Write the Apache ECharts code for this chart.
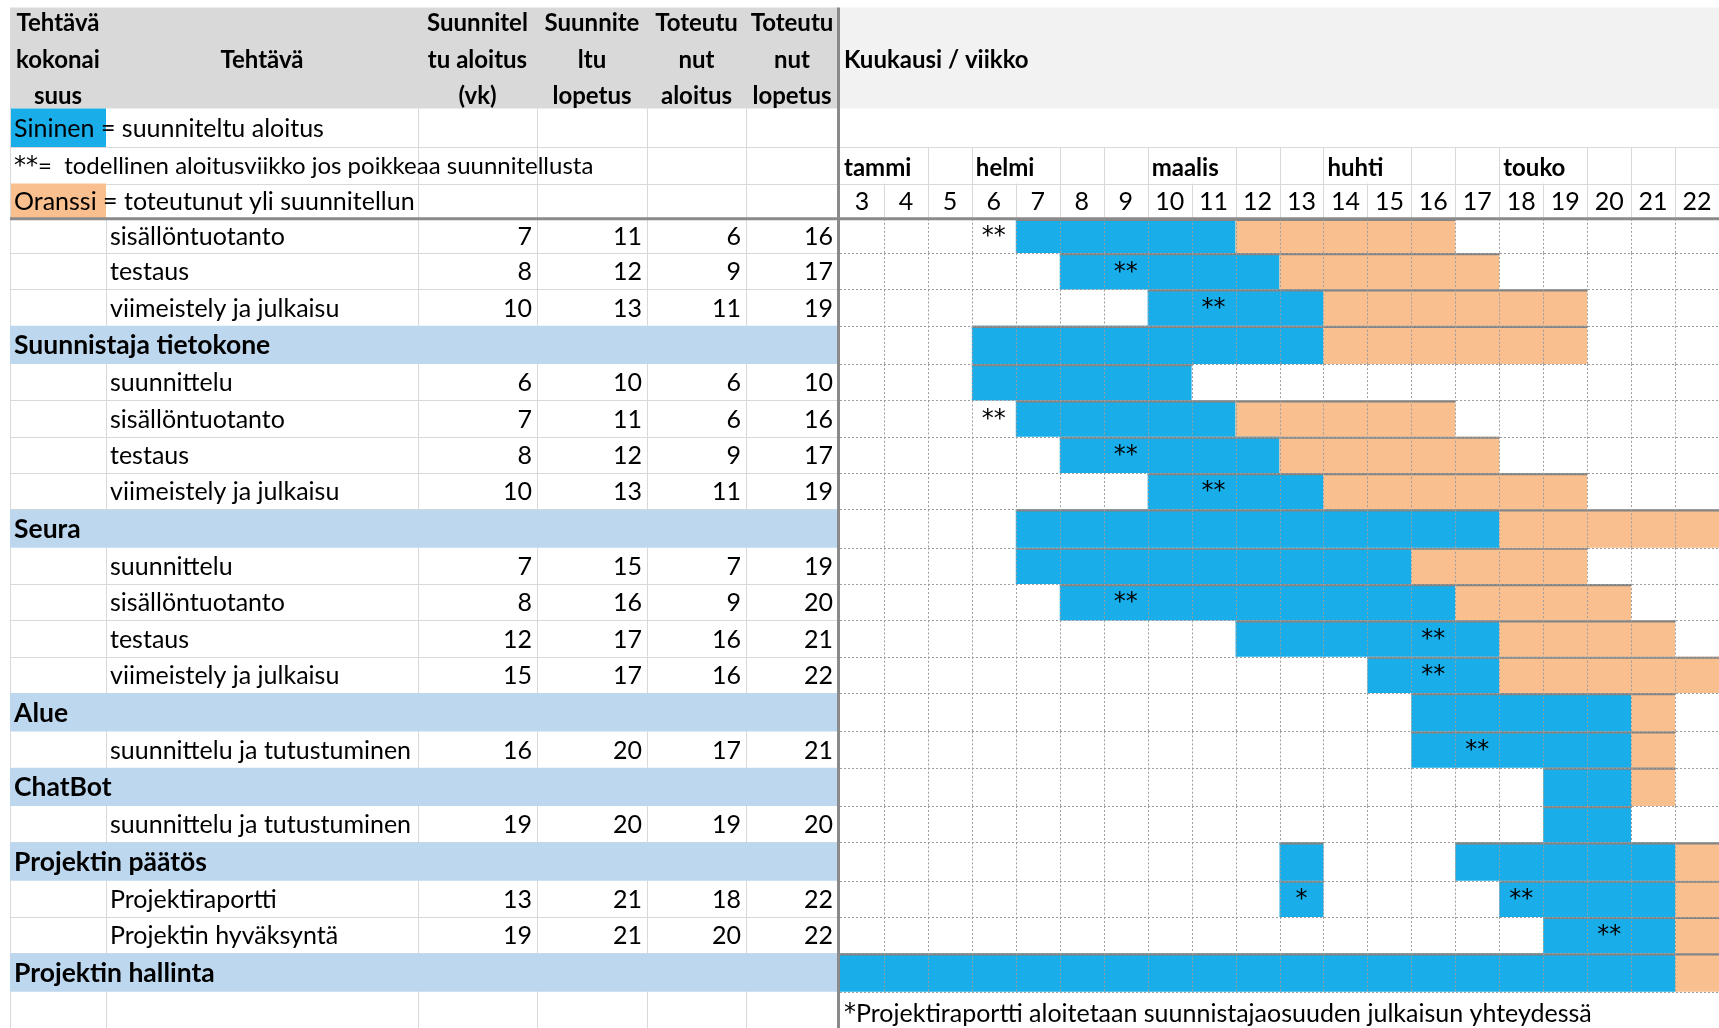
<!DOCTYPE html>
<html>
<head>
<meta charset="utf-8">
<script src="https://cdn.jsdelivr.net/npm/echarts@6/dist/echarts.min.js"></script>
<style>
  html, body { margin: 0; padding: 0; background: #ffffff; }
  #chart { width: 1719px; height: 1028px; }
</style>
</head>
<body>
<div id="chart"></div>
<script>
// ---- Schedule data -------------------------------------------------------
const weeks = [3, 4, 5, 6, 7, 8, 9, 10, 11, 12, 13, 14, 15, 16, 17, 18, 19, 20, 21, 22];
const monthNames = ['tammi', 'helmi', 'maalis', 'huhti', 'touko'];
const monthStartWeeks = [3, 6, 10, 14, 18];

const taskNames = [
  'sisällöntuotanto', 'testaus', 'viimeistely ja julkaisu',
  'Suunnistaja tietokone', 'suunnittelu', 'sisällöntuotanto', 'testaus', 'viimeistely ja julkaisu',
  'Seura', 'suunnittelu', 'sisällöntuotanto', 'testaus', 'viimeistely ja julkaisu',
  'Alue', 'suunnittelu ja tutustuminen',
  'ChatBot', 'suunnittelu ja tutustuminen',
  'Projektin päätös', 'Projektiraportti', 'Projektin hyväksyntä',
  'Projektin hallinta'
];
const isGroup       = [0, 0, 0, 1, 0, 0, 0, 0, 1, 0, 0, 0, 0, 1, 0, 1, 0, 1, 0, 0, 1];
const plannedStart  = [7, 8, 10, null, 6, 7, 8, 10, null, 7, 8, 12, 15, null, 16, null, 19, null, 13, 19, null];
const plannedEnd    = [11, 12, 13, null, 10, 11, 12, 13, null, 15, 16, 17, 17, null, 20, null, 20, null, 21, 21, null];
const actualStart   = [6, 9, 11, null, 6, 6, 9, 11, null, 7, 9, 16, 16, null, 17, null, 19, null, 18, 20, null];
const actualEnd     = [16, 17, 19, null, 10, 16, 17, 19, null, 19, 20, 21, 22, null, 21, null, 20, null, 22, 22, null];

// Summary bars of the group rows: [row, fromWeek, toWeek]
const groupPlanned = [[3, 6, 13], [8, 7, 17], [13, 16, 20], [15, 19, 20], [17, 13, 13], [17, 17, 21], [20, 3, 21]];
const groupOverrun = [[3, 14, 19], [8, 18, 22], [13, 21, 21], [15, 21, 21], [17, 22, 22], [20, 22, 22]];
// Report work that is started early, tied to the footnote: [row, week, mark]
const earlyStarts = [[18, 13, '*']];

const headerLines = [
  ['Tehtävä', 'kokonai', 'suus'],
  ['', 'Tehtävä', ''],
  ['Suunnitel', 'tu aloitus', '(vk)'],
  ['Suunnite', 'ltu', 'lopetus'],
  ['Toteutu', 'nut', 'aloitus'],
  ['Toteutu', 'nut', 'lopetus']
];
const timelineTitle = 'Kuukausi / viikko';
const legendTexts = [
  'Sininen = suunniteltu aloitus',
  '{s|**}=  todellinen aloitusviikko jos poikkeaa suunnitellusta',
  'Oranssi = toteutunut yli suunnitellun'
];
const footnote = '{s|*}Projektiraportti aloitetaan suunnistajaosuuden julkaisun yhteydessä';

// ---- Layout ---------------------------------------------------------------
const FONT_FAMILY = 'Lato, "Noto Sans", sans-serif';
const fontR = '25px ' + FONT_FAMILY;
const fontNote = '24px ' + FONT_FAMILY;
const fontB = 'bold 24px ' + FONT_FAMILY;
const fontGroup = 'bold 26.5px ' + FONT_FAMILY;
const fontMark = '24px "DejaVu Sans", sans-serif';
const richMark = { s: { font: fontMark, fill: '#000' } };

const BLUE = '#19aeea';
const ORANGE = '#f9bf8e';
const GROUP_BG = '#bdd7ee';
const LIGHT = '#d9d9d9';
const DOT = '#9c9c9c';
const DARK = '#848484';

const TABLE_LEFT = 10;
const colEdges = [0, 96, 408, 527, 637, 736, 828];   // table column edges
const TABLE_W = colEdges[colEdges.length - 1];
const GANTT_LEFT = 840;
const GANTT_W = 880;
const TOP = 108.5;
const HEADER_TOP = 7.5;

const legendH = [38.8, 36.6, 35.4];
const FIRST_H = 34.5, ROW_H = 36.5, GROUP_H = 38.5;
const rowH = legendH.slice();
isGroup.forEach((g, r) => rowH.push(r === 0 ? FIRST_H : (g ? GROUP_H : ROW_H)));
rowH.push(ROW_H); // footnote row
const rowTop = [];
let acc = 0;
rowH.forEach(h => { rowTop.push(acc); acc += h; });
const TOTAL = acc;
const N_LEGEND = legendH.length;
const N_ROWS = rowH.length;
const FOOT_ROW = N_ROWS - 1;

const crisp = v => Math.round(v) + 0.5;

function rowBounds(api, g) {
  return [api.coord([0, rowTop[g]])[1], api.coord([0, rowTop[g] + rowH[g]])[1]];
}
function vline(x, y0, y1, stroke, dash) {
  return { type: 'line', shape: { x1: crisp(x), y1: y0, x2: crisp(x), y2: y1 },
    style: { stroke: stroke, lineWidth: 1, lineDash: dash || null } };
}
function hline(x0, x1, y, stroke, dash, w) {
  return { type: 'line', shape: { x1: x0, y1: w ? y : crisp(y), x2: x1, y2: w ? y : crisp(y) },
    style: { stroke: stroke, lineWidth: w || 1, lineDash: dash || null } };
}
function txt(text, x, y, font, align) {
  return { type: 'text', style: { text: text, x: x, y: y, font: font, fill: '#000', rich: richMark,
    align: align, textAlign: align, verticalAlign: 'middle', textVerticalAlign: 'middle' } };
}

// ---- Left table -----------------------------------------------------------
function renderTableRow(params, api) {
  const g = api.value(0);
  const [y0, y1] = rowBounds(api, g);
  const ym = (y0 + y1) / 2 + 1;
  const X = k => api.coord([colEdges[k], 0])[0];
  const ch = [];
  if (g < N_LEGEND) {
    if (g === 0 || g === 2) {
      ch.push({ type: 'rect', shape: { x: X(0), y: y0, width: X(1) - X(0), height: y1 - y0 },
        style: { fill: g === 0 ? BLUE : ORANGE } });
    }
    ch.push(vline(X(0), y0, y1, LIGHT));
    for (let k = 2; k < 6; k++) ch.push(vline(X(k), y0, y1, LIGHT));
    ch.push(hline(X(0), X(6), y1, LIGHT));
    ch.push(txt(legendTexts[g], X(0) + 4, ym, g === 1 ? fontNote : fontR, 'left'));
  } else if (g < FOOT_ROW) {
    const r = g - N_LEGEND;
    if (isGroup[r]) {
      ch.push({ type: 'rect', shape: { x: X(0), y: y0, width: X(6) - X(0), height: y1 - y0 },
        style: { fill: GROUP_BG } });
      ch.push(txt(taskNames[r], X(0) + 4, ym, fontGroup, 'left'));
    } else {
      for (let k = 0; k < 6; k++) ch.push(vline(X(k), y0, y1, LIGHT));
      ch.push(hline(X(0), X(6), y1, LIGHT));
      ch.push(txt(taskNames[r], X(1) + 4, ym, fontR, 'left'));
      const vals = [plannedStart[r], plannedEnd[r], actualStart[r], actualEnd[r]];
      vals.forEach((v, k) => ch.push(txt(String(v), X(k + 3) - 5, ym, fontR, 'right')));
    }
  } else {
    for (let k = 0; k < 6; k++) ch.push(vline(X(k), y0, y1 + 40, LIGHT));
  }
  return { type: 'group', children: ch };
}

// ---- Timeline grid, headers and footnote -----------------------------------
function renderTimelineRow(params, api) {
  const g = api.value(0);
  const [y0, y1] = rowBounds(api, g);
  const ym = (y0 + y1) / 2 + 1;
  const W = w => api.coord([w, 0])[0];
  const ch = [];
  if (g === 1) {
    ch.push(hline(W(3), W(23), y0, LIGHT));
    weeks.forEach(w => {
      if (w === 3) return;
      if (monthStartWeeks.indexOf(w - 1) >= 0) return; // month name spills over this border
      ch.push(vline(W(w), y0, y1, LIGHT));
    });
    ch.push(vline(W(23), y0, y1, LIGHT));
    monthNames.forEach((m, i) => ch.push(txt(m, W(monthStartWeeks[i]) + 4, ym + 2, fontB, 'left')));
  } else if (g === 2) {
    ch.push(hline(W(3), W(23), y0, LIGHT));
    weeks.forEach(w => { if (w > 3) ch.push(vline(W(w), y0, y1, LIGHT)); });
    ch.push(vline(W(23), y0, y1, LIGHT));
    weeks.forEach(w => ch.push(txt(String(w), (W(w) + W(w + 1)) / 2, ym, fontR, 'center')));
  } else if (g >= N_LEGEND && g < FOOT_ROW) {
    weeks.forEach(w => { if (w > 3) ch.push(vline(W(w), y0, y1, DOT, [2, 2])); });
    ch.push(hline(W(3), W(23), y1, DOT, [2, 2]));
  } else if (g === FOOT_ROW) {
    ch.push(txt(footnote, W(3) + 4, ym + 3, fontR, 'left'));
  }
  return { type: 'group', children: ch };
}

// ---- Bars -----------------------------------------------------------------
const barData = [];   // [row, fromWeek, toWeek, kind] kind 0 = planned, 1 = overrun
const markData = [];  // [row, week, text]
taskNames.forEach((name, r) => {
  if (isGroup[r]) return;
  const early = earlyStarts.find(e => e[0] === r);
  if (early) {
    barData.push([r, early[1], early[1], 0]);
    markData.push([r, early[1], early[2]]);
    barData.push([r, actualStart[r], plannedEnd[r], 0]);
  } else {
    barData.push([r, plannedStart[r], plannedEnd[r], 0]);
  }
  if (actualEnd[r] > plannedEnd[r]) barData.push([r, plannedEnd[r] + 1, actualEnd[r], 1]);
  if (actualStart[r] !== plannedStart[r]) markData.push([r, actualStart[r], '**']);
});
groupPlanned.forEach(s => barData.push([s[0], s[1], s[2], 0]));
groupOverrun.forEach(s => barData.push([s[0], s[1], s[2], 1]));

function renderBar(params, api) {
  const g = api.value(0) + N_LEGEND;
  const [y0, y1] = rowBounds(api, g);
  const x0 = api.coord([api.value(1), 0])[0];
  const x1 = api.coord([api.value(2) + 1, 0])[0];
  return { type: 'group', children: [
    { type: 'rect', shape: { x: x0, y: y0, width: x1 - x0, height: y1 - y0 },
      style: { fill: api.value(3) === 1 ? ORANGE : BLUE } },
    hline(x0, x1, y0 + 1, DARK, null, 2.2)
  ] };
}
function renderMark(params, api) {
  const g = api.value(0) + N_LEGEND;
  const [y0, y1] = rowBounds(api, g);
  const w = api.value(1);
  const xc = (api.coord([w, 0])[0] + api.coord([w + 1, 0])[0]) / 2;
  return txt(markData[params.dataIndex][2], xc, (y0 + y1) / 2 + 1, fontMark, 'center');
}

// ---- Header band ----------------------------------------------------------
const graphics = [
  { type: 'rect', shape: { x: TABLE_LEFT, y: HEADER_TOP, width: TABLE_W, height: TOP - HEADER_TOP },
    style: { fill: '#d9d9d9' }, z: 0 },
  { type: 'rect', shape: { x: GANTT_LEFT, y: HEADER_TOP, width: GANTT_W, height: TOP - HEADER_TOP },
    style: { fill: '#f2f2f2' }, z: 0 },
  { type: 'line', shape: { x1: GANTT_LEFT - 1.5, y1: HEADER_TOP, x2: GANTT_LEFT - 1.5, y2: 1028 },
    style: { stroke: '#8a8a8a', lineWidth: 3 }, z: 50 }
];
const headerLineY = [23, 60, 96];
headerLines.forEach((lines, k) => {
  const cx = TABLE_LEFT + (colEdges[k] + colEdges[k + 1]) / 2;
  lines.forEach((t, i) => {
    if (!t) return;
    graphics.push({ type: 'text', z: 10, style: { text: t, x: cx, y: headerLineY[i], font: fontB, fill: '#000',
      align: 'center', textAlign: 'center', verticalAlign: 'middle', textVerticalAlign: 'middle' } });
  });
});
graphics.push({ type: 'text', z: 10, style: { text: timelineTitle, x: GANTT_LEFT + 4, y: headerLineY[1], font: fontB,
  fill: '#000', align: 'left', textAlign: 'left', verticalAlign: 'middle', textVerticalAlign: 'middle' } });

const rowItems = rowH.map((h, i) => [i]);

const chart = echarts.init(document.getElementById('chart'), null, { renderer: 'canvas' });
chart.setOption({
  animation: false,
  backgroundColor: '#ffffff',
  grid: [
    { left: TABLE_LEFT, top: TOP, width: TABLE_W, height: TOTAL },
    { left: GANTT_LEFT, top: TOP, width: GANTT_W, height: TOTAL }
  ],
  xAxis: [
    { gridIndex: 0, type: 'value', min: 0, max: TABLE_W, show: false },
    { gridIndex: 1, type: 'value', min: 3, max: 23, show: false }
  ],
  yAxis: [
    { gridIndex: 0, type: 'value', min: 0, max: TOTAL, inverse: true, show: false },
    { gridIndex: 1, type: 'value', min: 0, max: TOTAL, inverse: true, show: false }
  ],
  graphic: { elements: graphics },
  series: [
    { type: 'custom', name: 'taulukko', xAxisIndex: 0, yAxisIndex: 0, z: 2, silent: true,
      data: rowItems, encode: { y: 0 }, renderItem: renderTableRow },
    { type: 'custom', name: 'palkit', xAxisIndex: 1, yAxisIndex: 1, z: 3, silent: true,
      data: barData, encode: { x: [1, 2], y: 0 }, renderItem: renderBar },
    { type: 'custom', name: 'ruudukko', xAxisIndex: 1, yAxisIndex: 1, z: 4, silent: true,
      data: rowItems, encode: { y: 0 }, renderItem: renderTimelineRow },
    { type: 'custom', name: 'merkinnät', xAxisIndex: 1, yAxisIndex: 1, z: 5, silent: true,
      data: markData, encode: { x: 1, y: 0 }, renderItem: renderMark },
    { type: 'custom', name: 'erotin', xAxisIndex: 0, yAxisIndex: 0, z: 6, silent: true,
      data: [[N_LEGEND]], encode: { y: 0 },
      renderItem: function (params, api) {
        const y = api.coord([0, rowTop[api.value(0)]])[1];
        return hline(TABLE_LEFT, 1719, y, '#8a8a8a', null, 3);
      } }
  ]
});
</script>
</body>
</html>
